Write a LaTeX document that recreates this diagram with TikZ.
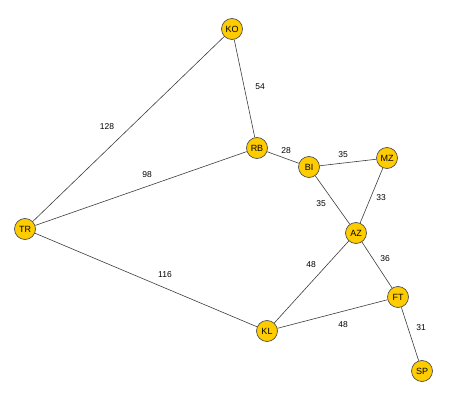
\documentclass[tikz,border=0pt]{standalone}
\usepackage{fontspec}
\setmainfont{Liberation Sans}
\usepackage{xcolor}
\definecolor{townfill}{RGB}{255,204,0}
\definecolor{townline}{RGB}{80,80,80}
\definecolor{roadline}{RGB}{60,60,60}

\begin{document}
\begin{tikzpicture}[
    x=1pt, y=-1pt,
    town/.style={circle, draw=townline, line width=0.7pt, fill=townfill, minimum size=21pt, inner sep=0pt, font=\fontsize{9}{10}\selectfont},
    road/.style={draw=roadline, line width=0.6pt},
    dist/.style={inner sep=0pt, font=\fontsize{8.5}{10}\selectfont}
]
\useasboundingbox (0,0) rectangle (458,401);

% towns
\node[town] (KO) at (232,29) {KO};
\node[town] (RB) at (257,148) {RB};
\node[town] (BI) at (309,167) {BI};
\node[town] (MZ) at (387,158) {MZ};
\node[town] (TR) at (25,229) {TR};
\node[town] (AZ) at (356,233) {AZ};
\node[town] (FT) at (398,297) {FT};
\node[town] (KL) at (267,331) {KL};
\node[town] (SP) at (422,371) {SP};

% roads
\draw[road] (KO) -- (RB);
\draw[road] (KO) -- (TR);
\draw[road] (TR) -- (RB);
\draw[road] (RB) -- (BI);
\draw[road] (BI) -- (MZ);
\draw[road] (BI) -- (AZ);
\draw[road] (MZ) -- (AZ);
\draw[road] (TR) -- (KL);
\draw[road] (AZ) -- (KL);
\draw[road] (AZ) -- (FT);
\draw[road] (KL) -- (FT);
\draw[road] (FT) -- (SP);

% distances
\node[dist] (dKORB) at (260,87) {54};
\node[dist] (dKOTR) at (107,127) {128};
\node[dist] (dTRRB) at (147,175) {98};
\node[dist] (dRBBI) at (286,151) {28};
\node[dist] (dBIMZ) at (343,155) {35};
\node[dist] (dBIAZ) at (321,204) {35};
\node[dist] (dMZAZ) at (381,198) {33};
\node[dist] (dTRKL) at (165,275) {116};
\node[dist] (dAZKL) at (311,265) {48};
\node[dist] (dAZFT) at (385,259) {36};
\node[dist] (dKLFT) at (343,325) {48};
\node[dist] (dFTSP) at (421,328) {31};
\end{tikzpicture}
\end{document}
